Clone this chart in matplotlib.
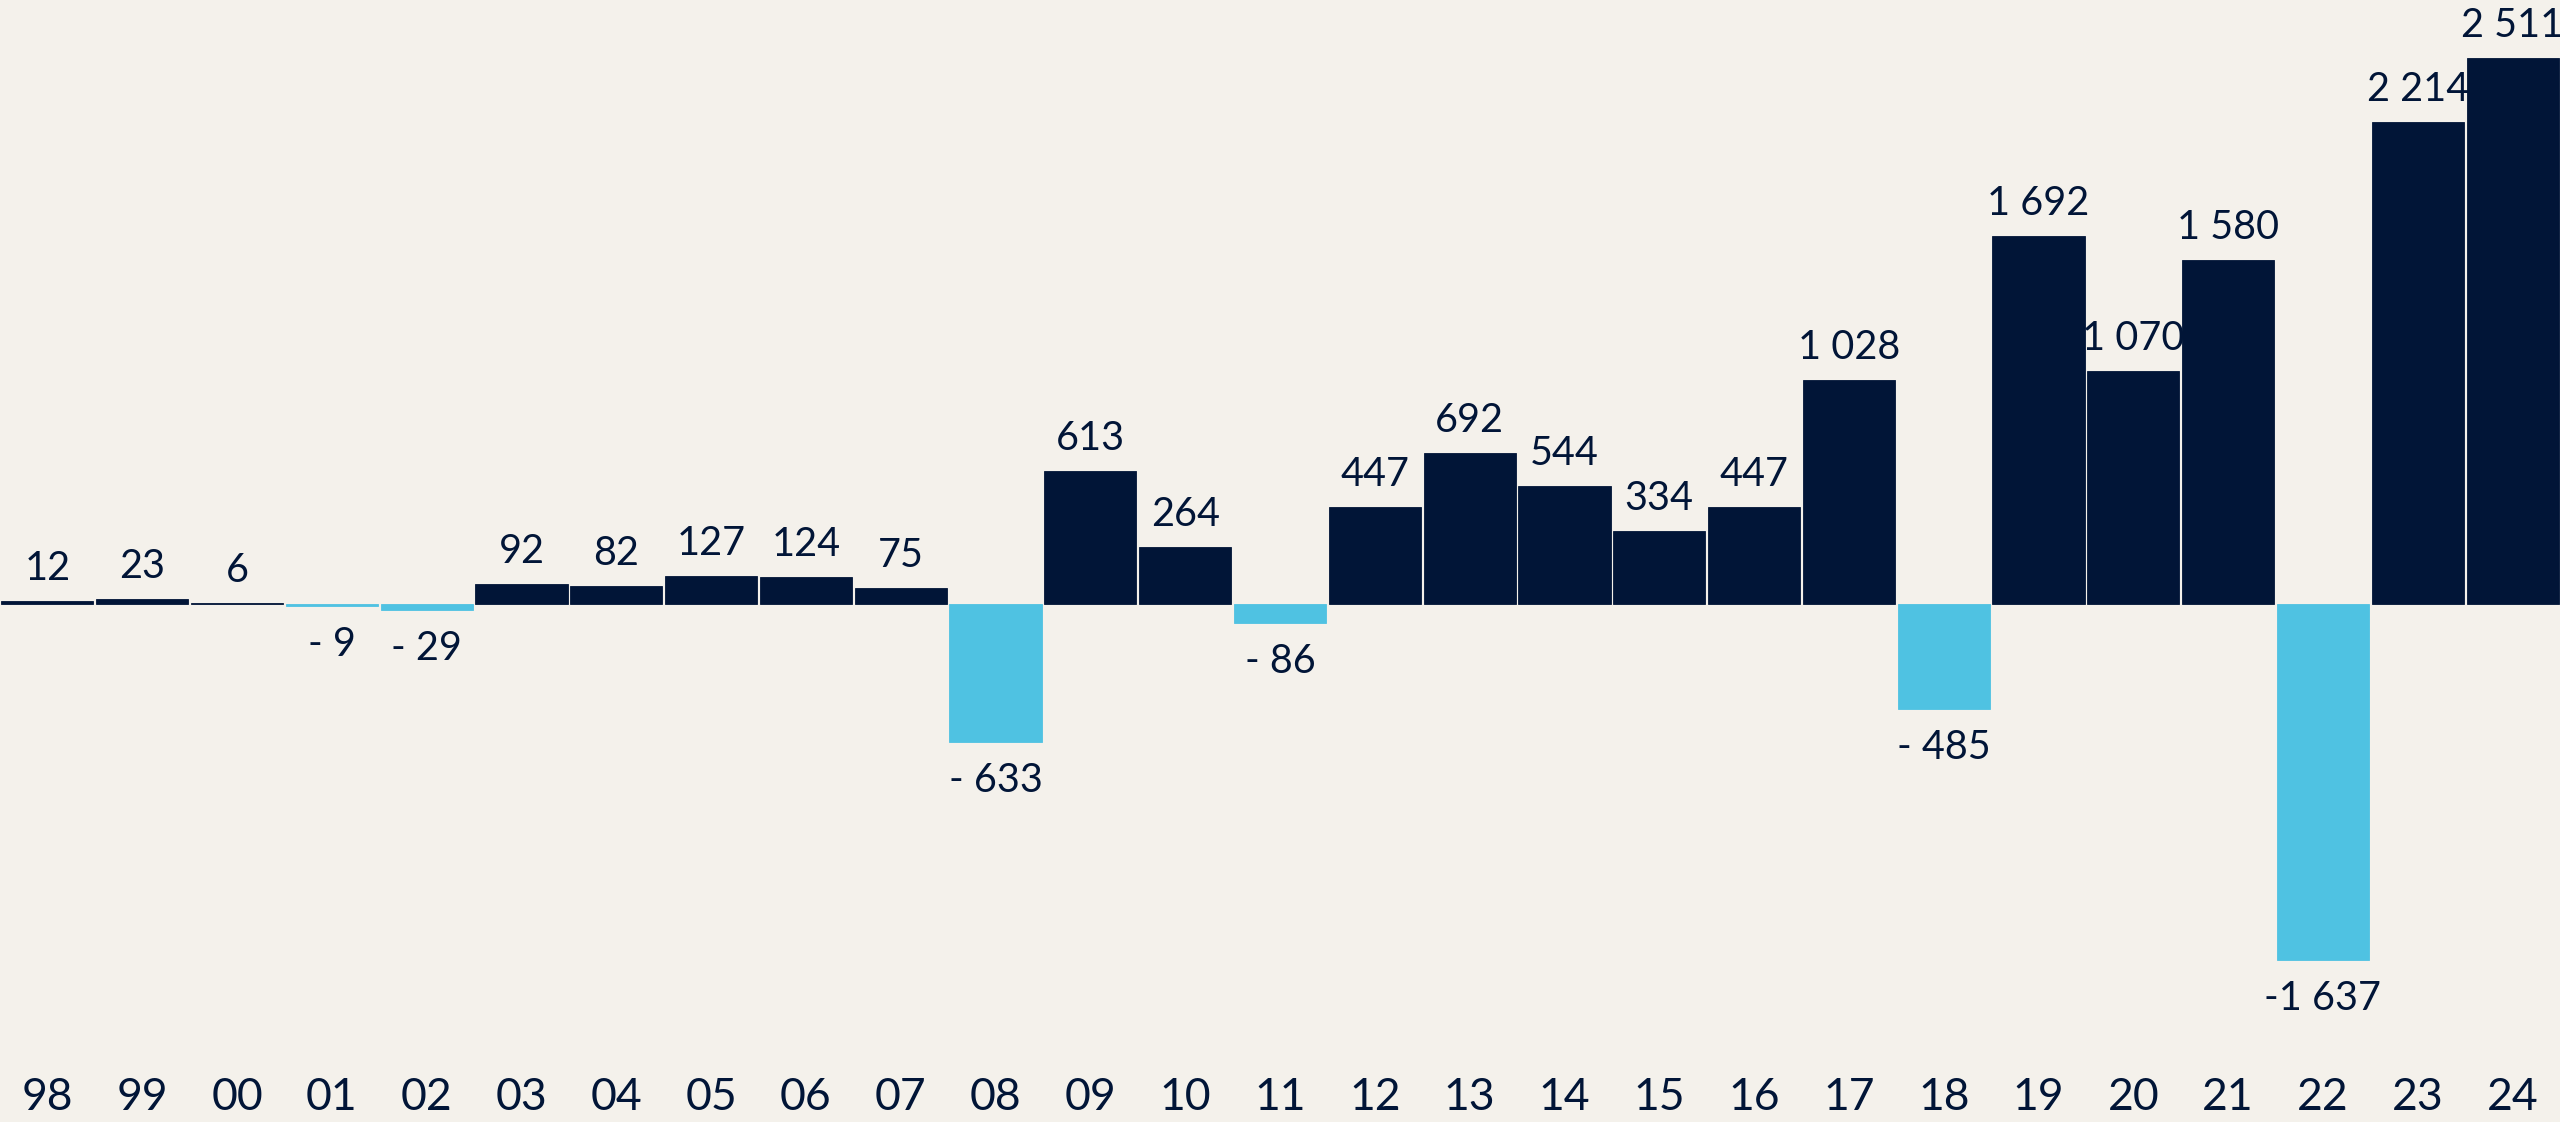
import matplotlib
matplotlib.use("Agg")
import matplotlib.pyplot as plt
import matplotlib.transforms as mtransforms

years = ["98", "99", "00", "01", "02", "03", "04", "05", "06", "07", "08", "09", "10",
         "11", "12", "13", "14", "15", "16", "17", "18", "19", "20", "21", "22", "23", "24"]
values = [12, 23, 6, -9, -29, 92, 82, 127, 124, 75, -633, 613, 264,
          -86, 447, 692, 544, 334, 447, 1028, -485, 1692, 1070, 1580, -1637, 2214, 2511]

BG = "#F4F1EB"
NAVY = "#011537"
BLUE = "#4FC2E2"

plt.rcParams['font.family'] = ['Lato', 'DejaVu Sans']

fig = plt.figure(figsize=(25.6, 11.22), dpi=100, facecolor=BG)
ax = fig.add_axes([0, 0, 1, 1])
ax.set_facecolor(BG)

x = list(range(len(values)))
colors = [NAVY if v >= 0 else BLUE for v in values]
ax.bar(x, values, width=0.972, color=colors, edgecolor=colors, linewidth=0.6)

ax.set_xlim(-0.5, len(values) - 0.5)
ax.set_ylim(-2382, 2777)
ax.axis("off")


def fmt(v):
    s = f"{abs(v):,}".replace(",", " ")
    if v < 0:
        return ("- " + s) if abs(v) < 1000 else ("-" + s)
    return s


for xi, v in zip(x, values):
    if v >= 0:
        ax.annotate(fmt(v), (xi, v), xytext=(0, 14), textcoords="offset pixels",
                    ha="center", va="bottom", fontsize=28.5, color=NAVY)
    else:
        ax.annotate(fmt(v), (xi, v), xytext=(0, -20), textcoords="offset pixels",
                    ha="center", va="top", fontsize=28.5, color=NAVY)

trans = mtransforms.blended_transform_factory(ax.transData, ax.transAxes)
for xi, lab in zip(x, years):
    ax.text(xi, 1 - 1097 / 1122, lab, transform=trans, ha="center", va="center",
            fontsize=32, color=NAVY)

fig.savefig("out.png", dpi=100, facecolor=BG)
